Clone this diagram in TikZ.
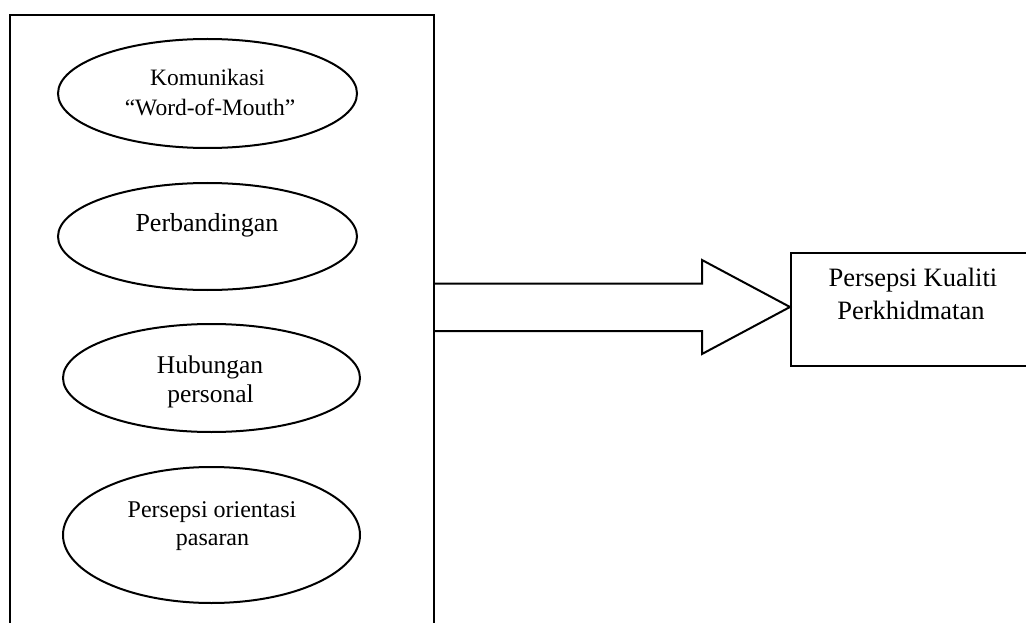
\documentclass[tikz,border=0pt]{standalone}
\usepackage{fontspec}
\setmainfont{Liberation Serif}
\usetikzlibrary{shapes.geometric}
\begin{document}
\begin{tikzpicture}[x=1pt,y=-1pt,line width=2pt,line join=miter,
  factor/.style={draw, ellipse, inner sep=0pt, minimum width=#1},
  frame box/.style={draw, rectangle, inner sep=0pt},
  txt/.style={anchor=base, inner sep=0pt, font=\fontsize{#1}{#1}\selectfont}]
  \useasboundingbox (0,0) rectangle (1026,623);

  % group of factors
  \node[frame box, minimum width=424pt, minimum height=640pt] (frame) at (221.5,335) {};

  \node[factor=299pt, minimum height=109pt] (e1) at (207.5,93.5) {};
  \node[factor=299pt, minimum height=107pt] (e2) at (207.5,236.5) {};
  \node[factor=297pt, minimum height=108pt] (e3) at (211.5,378) {};
  \node[factor=297pt, minimum height=136pt] (e4) at (211.5,535) {};

  \node[txt=23.5] (t1a) at (207.5,85.3) {Komunikasi};
  \node[txt=23.5] (t1b) at (210,116) {“Word-of-Mouth”};
  \node[txt=26] (t2) at (207,231) {Perbandingan};
  \node[txt=25.5] (t3a) at (210,373) {Hubungan};
  \node[txt=25.5] (t3b) at (210.5,402) {personal};
  \node[txt=24] (t4a) at (212,517.7) {Persepsi orientasi};
  \node[txt=24] (t4b) at (212.5,545) {pasaran};

  % outcome
  \node[frame box, minimum width=260pt, minimum height=113.5pt] (kualiti) at (921,309.25) {};
  \node[txt=26.5] (t5a) at (913,286.7) {Persepsi Kualiti};
  \node[txt=26.5] (t5b) at (911,319) {Perkhidmatan};

  % block arrow from the factors to the outcome
  \coordinate (s1) at (702,283.5);
  \coordinate (h1) at (702,260);
  \coordinate (h2) at (702,354);
  \coordinate (s2) at (702,331);
  \coordinate (tip) at (kualiti.west |- 0,307);
  \draw (frame.east |- s1) -- (s1) -- (h1) -- (tip) -- (h2) -- (s2) -- (frame.east |- s2);
\end{tikzpicture}
\end{document}
